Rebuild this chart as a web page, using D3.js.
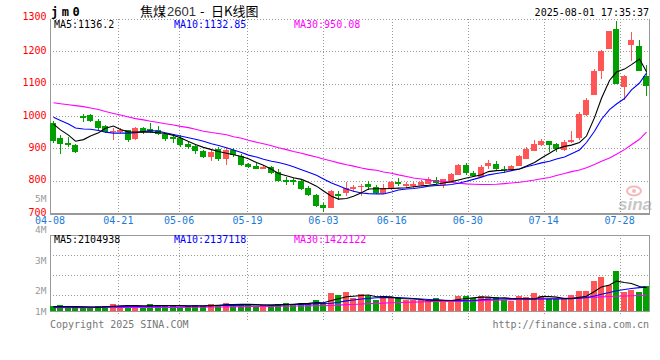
<!DOCTYPE html>
<html lang="zh">
<head>
<meta charset="UTF-8">
<title>焦煤2601 - 日K线图</title>
<script src="https://d3js.org/d3.v7.min.js"></script>
<style>
    html, body { margin: 0; padding: 0; background: #fff; }
    svg { display: block; }
    text { font-family: "DejaVu Sans Mono", monospace; font-size: 10px; }
</style>
</head>
<body>
<svg id="kline" width="660" height="360"></svg>
<script>
    // trading days shown on the chart
    const dates = [
        '04-08','04-09','04-10','04-11','04-14','04-15','04-16','04-17','04-18',
        '04-21','04-22','04-23','04-24','04-25','04-28','04-29','04-30',
        '05-06','05-07','05-08','05-09','05-12','05-13','05-14','05-15','05-16',
        '05-19','05-20','05-21','05-22','05-23','05-26','05-27','05-28','05-29','05-30',
        '06-03','06-04','06-05','06-06','06-09','06-10','06-11','06-12','06-13',
        '06-16','06-17','06-18','06-19','06-20','06-23','06-24','06-25','06-26','06-27',
        '06-30','07-01','07-02','07-03','07-04','07-07','07-08','07-09','07-10','07-11',
        '07-14','07-15','07-16','07-17','07-18','07-21','07-22','07-23','07-24','07-25',
        '07-28','07-29','07-30','07-31','08-01'
    ];

    // daily prices
    const open = [977,931,917,910,1000,1003,985,968,950,951,957,929,963,960,957,945,934,933,913,907,
        892,874,898,868,896,877,852,845,837,842,828,802,802,800,777,756,726,716,759,763,
        775,779,790,781,763,773,796,784,784,788,791,803,786,799,819,849,824,812,846,852,
        837,832,846,868,893,911,922,913,894,919,932,1002,1066,1140,1207,1270,1090,1221,1217,1125];
    const high = [985,941,934,913,1006,1006,990,972,962,962,958,967,967,977,969,948,937,940,920,912,
        895,895,903,900,900,882,855,856,847,846,836,812,809,806,782,759,730,771,769,797,
        787,790,799,787,789,799,807,796,795,802,812,812,806,823,852,856,830,849,865,861,
        846,850,878,903,927,930,924,916,926,953,1012,1055,1146,1204,1264,1295,1126,1260,1235,1159];
    const low = [918,882,903,886,981,982,957,948,926,948,920,926,945,948,940,924,917,905,897,882,
        871,862,862,848,874,845,838,835,835,821,796,787,786,771,753,720,704,716,740,753,
        766,753,772,760,760,770,785,778,778,786,789,789,776,795,818,818,810,812,837,831,
        824,830,845,866,892,908,890,890,892,918,925,1000,1064,1114,1207,1100,1050,1171,1138,1063];
    const close = [922,913,909,890,995,985,964,951,955,957,926,963,951,951,945,930,930,910,903,893,
        874,889,868,895,878,848,843,836,842,824,799,796,796,774,756,722,716,768,753,777,
        781,785,781,763,776,796,790,790,790,797,805,792,804,821,848,824,814,842,855,837,
        832,844,875,899,914,922,911,897,920,925,1007,1050,1140,1202,1264,1100,1123,1236,1138,1094];

    // moving averages of the close
    const ma5 = [975,957,941,922,927,938,948,962,969,958,951,950,951,950,948,946,940,933,921,912,
        903,896,890,885,880,875,868,856,848,835,822,815,809,804,795,783,768,752,743,745,
        752,763,774,775,775,776,777,778,781,784,786,789,793,797,802,808,813,818,828,831,
        832,834,836,845,856,870,885,898,906,910,918,938,995,1055,1110,1136,1145,1159,1176,1137];
    const ma10 = [996,986,975,963,960,959,955,950,947,947,947,948,952,955,953,948,943,938,933,928,
        922,914,909,902,895,887,879,873,866,860,856,850,843,834,826,817,805,793,784,774,
        767,762,760,759,759,765,771,774,776,779,783,785,786,788,792,798,804,811,818,822,
        826,831,836,843,849,855,860,867,873,883,895,918,953,990,1020,1037,1054,1081,1102,1133];
    const ma30 = [1041,1038,1035,1032,1029,1025,1020,1014,1008,1003,997,992,988,984,980,976,972,968,964,959,
        953,949,946,942,936,931,925,919,914,908,902,896,890,885,879,873,867,861,855,849,
        845,839,835,832,827,823,818,813,808,805,802,799,797,795,792,790,789,788,788,789,
        791,793,795,798,802,806,810,816,822,828,833,840,850,860,870,882,896,911,928,950];

    // volume in 10k lots
    const volume = [45,54,30,30,30,36,45,45,63,45,40,54,33,60,54,45,45,33,45,54,
        45,63,54,72,54,60,54,45,54,54,63,72,63,75,72,96,63,162,144,171,
        120,150,135,99,135,114,120,102,102,99,90,114,90,90,135,135,120,135,126,126,
        99,90,135,126,162,135,114,114,114,141,180,180,270,306,234,356,167,185,167,221];
    const volMa5 = [39,40,40,39,38,36,34,38,43,47,49,49,47,47,49,49,49,48,45,45,
        45,48,52,58,58,60,60,57,54,53,55,58,61,66,69,76,74,94,110,128,
        133,140,144,128,129,127,113,110,108,104,92,96,97,95,103,113,118,125,125,117,
        118,113,112,110,108,129,129,125,112,113,124,132,175,217,234,269,256,248,221,211];
    const volMa10 = [34,34,34,34,35,36,36,37,38,39,40,41,41,43,44,45,45,46,46,47,
        47,48,49,50,51,53,54,54,54,54,55,57,59,60,62,66,68,70,79,91,
        99,108,114,119,120,121,120,117,113,108,104,101,97,95,93,92,95,101,106,108,
        109,109,108,108,108,108,108,108,108,110,115,122,135,151,166,182,193,203,210,214];
    const volMa30 = [30,30,30,30,30,30,31,31,31,31,32,32,32,32,32,32,33,33,34,34,
        35,36,36,37,38,39,40,41,41,42,43,44,45,45,46,47,48,50,53,57,
        59,63,66,68,71,74,77,78,80,82,84,85,86,86,88,89,91,93,95,97,
        99,102,104,106,108,110,112,113,114,116,118,120,123,127,130,133,135,137,139,142];

    // axis labels
    const priceTicks = [1300, 1200, 1100, 1000, 900, 800, 700];
    const dateTicks = ['04-08','04-21','05-06','05-19','06-03','06-16','06-30','07-14','07-28'];
    const volTicks = [5, 4, 3, 2, 1];

    const priceLegend = ['MA5:1136.2', 'MA10:1132.85', 'MA30:950.08'];
    const volLegend = ['MA5:2104938', 'MA10:2137118', 'MA30:1422122'];
    const legendColors = ['#000', '#0000ff', '#ff00ff'];

    const RED = '#ff5555', GREEN = '#00a000', GRID = '#999';
    const left = 50, right = 649;
    const pTop = 19, pBottom = 213, vTop = 235, vBottom = 311;

    const svg = d3.select('#kline');

    const x = d3.scaleBand().domain(dates).range([49, 650]);
    const gx = d3.scalePoint().domain(dates).range([left, 650]);
    const y = d3.scaleLinear().domain([700, 1300]).range([pBottom, pTop]);
    const vy = d3.scaleLinear().domain([0, 684]).range([vBottom, vTop]);
    const volLabelY = d3.scaleLinear().domain([4, 3]).range([233.3, 263.5]);

    const cx = d => Math.round(x(d) + x.bandwidth() / 2);

    // grid
    const grid = svg.append('g')
        .attr('stroke', GRID)
        .attr('stroke-dasharray', '1,2')
        .attr('shape-rendering', 'crispEdges');

    grid.selectAll('.hp')
        .data(priceTicks.filter(v => v > 700))
        .enter().append('line')
        .attr('x1', left).attr('x2', right)
        .attr('y1', d => Math.round(y(d)) + 0.5)
        .attr('y2', d => Math.round(y(d)) + 0.5);

    grid.selectAll('.hv')
        .data([255, 275, 295])
        .enter().append('line')
        .attr('x1', left).attr('x2', right)
        .attr('y1', d => d + 0.5).attr('y2', d => d + 0.5);

    grid.selectAll('.vp')
        .data(dateTicks.slice(1))
        .enter().append('line')
        .attr('x1', d => Math.round(gx(d)) + 0.5)
        .attr('x2', d => Math.round(gx(d)) + 0.5)
        .attr('y1', pTop).attr('y2', pBottom);

    grid.selectAll('.vv')
        .data(dateTicks.slice(1))
        .enter().append('line')
        .attr('x1', d => Math.round(gx(d)) + 0.5)
        .attr('x2', d => Math.round(gx(d)) + 0.5)
        .attr('y1', vTop).attr('y2', 322);

    // panel borders
    const border = svg.append('g')
        .attr('stroke', GRID)
        .attr('fill', 'none')
        .attr('shape-rendering', 'crispEdges');
    border.append('path')
        .attr('d', `M${left + 0.5},${pTop} V${pBottom + 0.5} H${right + 0.5} V${pTop}`);
    border.append('line')
        .attr('x1', left).attr('x2', right + 1)
        .attr('y1', pBottom + 1.5).attr('y2', pBottom + 1.5);
    border.append('rect')
        .attr('x', left + 0.5).attr('y', vTop + 0.5)
        .attr('width', right - left).attr('height', vBottom - vTop);

    // sina mark
    const logo = svg.append('g').attr('opacity', 0.55);
    logo.append('ellipse')
        .attr('cx', 634).attr('cy', 191).attr('rx', 7).attr('ry', 4.5)
        .attr('fill', 'none').attr('stroke', '#f08080').attr('stroke-width', 2);
    logo.append('circle')
        .attr('cx', 634).attr('cy', 191).attr('r', 2)
        .attr('fill', '#f08080');
    logo.append('text')
        .attr('x', 618).attr('y', 210)
        .style('font-family', '"Liberation Sans", Arial, sans-serif')
        .style('font-size', '17px').style('font-weight', 'bold').style('font-style', 'italic')
        .attr('fill', '#999')
        .text('sina');

    // candles
    const candles = dates.map((d, i) => ({ d, o: open[i], h: high[i], l: low[i], c: close[i] }));
    const cg = svg.append('g').attr('shape-rendering', 'crispEdges');

    cg.selectAll('.wick')
        .data(candles)
        .enter().append('rect')
        .attr('x', d => cx(d.d))
        .attr('y', d => Math.round(y(d.h)))
        .attr('width', 1)
        .attr('height', d => Math.max(1, Math.round(y(d.l)) - Math.round(y(d.h))))
        .attr('fill', d => d.c >= d.o ? RED : GREEN);

    cg.selectAll('.body')
        .data(candles)
        .enter().append('rect')
        .attr('x', d => cx(d.d) - 3)
        .attr('y', d => Math.round(y(Math.max(d.o, d.c))))
        .attr('width', 6)
        .attr('height', d => Math.max(1, Math.round(y(Math.min(d.o, d.c))) - Math.round(y(Math.max(d.o, d.c)))))
        .attr('fill', d => d.c >= d.o ? RED : GREEN);

    // volume bars
    cg.selectAll('.vol')
        .data(candles)
        .enter().append('rect')
        .attr('x', d => cx(d.d) - 3)
        .attr('y', (d, i) => Math.round(vy(volume[i])))
        .attr('width', 6)
        .attr('height', (d, i) => vBottom - Math.round(vy(volume[i])))
        .attr('fill', d => d.c >= d.o ? RED : GREEN);

    // moving average lines
    function drawLine(values, scale, color) {
        const line = d3.line()
            .x((v, i) => cx(dates[i]) + 0.5)
            .y(v => scale(v));
        svg.append('path')
            .datum(values)
            .attr('fill', 'none')
            .attr('stroke', color)
            .attr('stroke-width', 1.1)
            .attr('d', line);
    }
    drawLine(ma30, y, '#ff00ff');
    drawLine(ma10, y, '#0000ff');
    drawLine(ma5, y, '#000');
    drawLine(volMa30, vy, '#ff00ff');
    drawLine(volMa10, vy, '#0000ff');
    drawLine(volMa5, vy, '#000');

    // price axis labels
    svg.selectAll('.pl')
        .data(priceTicks)
        .enter().append('text')
        .attr('x', 46.5)
        .attr('y', d => y(d) + (d === 1300 ? 0.5 : 2.5))
        .attr('text-anchor', 'end')
        .attr('fill', '#f00')
        .text(d => d);

    // volume axis labels
    svg.selectAll('.vl')
        .data(volTicks)
        .enter().append('text')
        .attr('x', 46.5)
        .attr('y', d => Math.min(volLabelY(d), 314.5) - (d === 5 ? 1 : 0))
        .attr('text-anchor', 'end')
        .attr('fill', '#999')
        .style('font-size', '9.5px')
        .text(d => d + 'M');

    // date labels
    svg.selectAll('.dl')
        .data(dateTicks)
        .enter().append('text')
        .attr('x', d => gx(d))
        .attr('y', 224)
        .attr('text-anchor', 'middle')
        .attr('fill', '#1a7ad6')
        .text(d => d);

    // legends
    const legendX = [54, 174, 294];
    priceLegend.forEach((t, i) => {
        svg.append('text').attr('x', legendX[i]).attr('y', 27.5)
            .attr('fill', legendColors[i]).text(t);
    });
    volLegend.forEach((t, i) => {
        svg.append('text').attr('x', legendX[i]).attr('y', 242.5)
            .attr('fill', legendColors[i]).text(t);
    });

    // header
    svg.append('text')
        .attr('x', 51).attr('y', 16)
        .style('font-size', '12px').style('font-weight', 'bold')
        .style('letter-spacing', '3.5px')
        .text('jm0');
    const title = svg.append('text')
        .attr('y', 15.5)
        .style('font-family', '"Noto Sans CJK SC", sans-serif')
        .style('font-size', '13px');
    title.append('tspan').attr('x', 140).text('焦煤');
    title.append('tspan').attr('x', 167).attr('fill', '#333')
        .style('font-family', '"Liberation Sans", Arial, sans-serif')
        .style('font-size', '13px')
        .text('2601');
    title.append('tspan').attr('x', 200).text('-');
    title.append('tspan').attr('x', 211).text('日K线图');
    svg.append('text')
        .attr('x', 649).attr('y', 16)
        .attr('text-anchor', 'end')
        .text('2025-08-01 17:35:37');

    // footer
    svg.append('rect').attr('x', 48).attr('y', 316).attr('width', 142).attr('height', 14).attr('fill', '#fff');
    svg.append('rect').attr('x', 490).attr('y', 316).attr('width', 162).attr('height', 14).attr('fill', '#fff');
    svg.append('text')
        .attr('x', 50).attr('y', 327.5)
        .attr('fill', '#777')
        .text('Copyright 2025 SINA.COM');
    svg.append('text')
        .attr('x', 649).attr('y', 327.5)
        .attr('text-anchor', 'end')
        .attr('fill', '#777')
        .text('http://finance.sina.com.cn');
</script>
</body>
</html>
